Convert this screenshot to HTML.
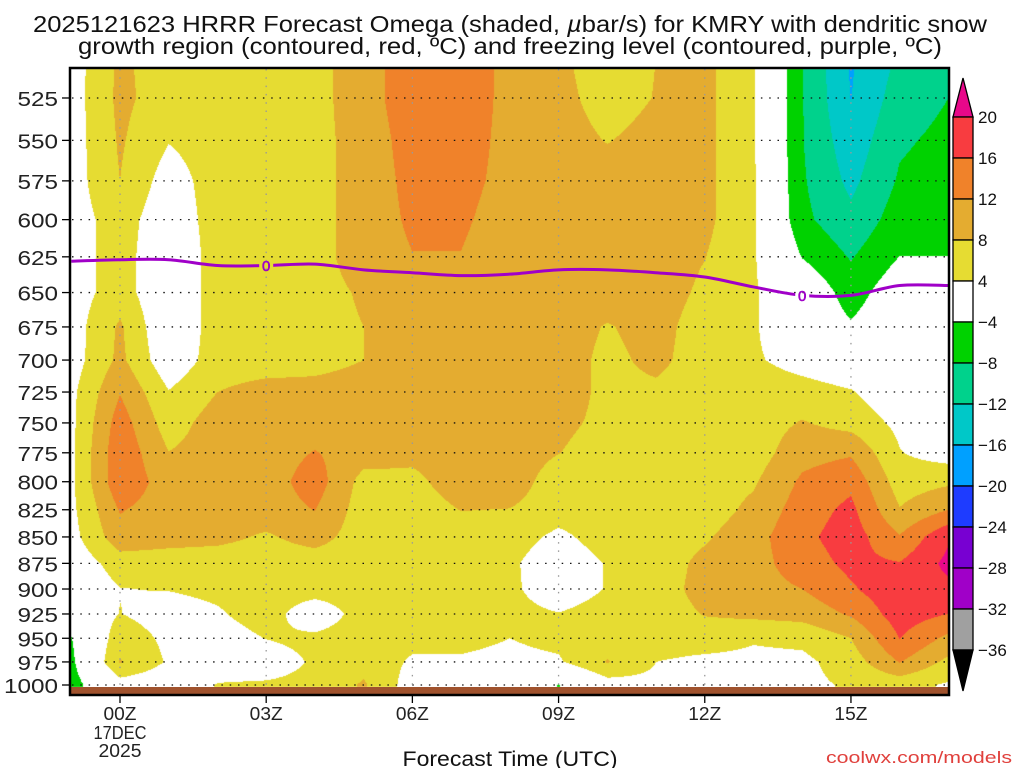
<!DOCTYPE html>
<html><head><meta charset="utf-8">
<style>
html,body{margin:0;padding:0;background:#fff;}
#wrap{position:relative;width:1024px;height:768px;overflow:hidden;}
#fill{position:absolute;left:0;top:0;}
#ov{position:absolute;left:0;top:0;}
text{font-family:"Liberation Sans",Arial,sans-serif;}
</style></head>
<body>
<div id="wrap">
<canvas id="fill" width="1024" height="768"></canvas>
<svg id="ov" width="1024" height="768" xmlns="http://www.w3.org/2000/svg">
  <text x="33" y="32" font-size="23" textLength="954" lengthAdjust="spacingAndGlyphs" fill="#111">2025121623 HRRR Forecast Omega (shaded, <tspan font-style="italic">µ</tspan>bar/s) for KMRY with dendritic snow</text>
  <text x="78" y="54" font-size="23" textLength="864" lengthAdjust="spacingAndGlyphs" fill="#111">growth region (contoured, red, ºC) and freezing level (contoured, purple, ºC)</text>
  <g id="grid"></g>
  <g id="frz"></g>
  <rect x="70" y="687" width="879" height="8" fill="#a0522d"/>
  <rect x="70" y="68" width="879" height="627" fill="none" stroke="#000" stroke-width="2.5"/>
  <g id="yax"></g>
  <g id="xax"></g>
  <text x="510" y="766" font-size="21" text-anchor="middle" textLength="215" lengthAdjust="spacingAndGlyphs" fill="#111">Forecast Time (UTC)</text>
  <text x="826" y="763" font-size="17" textLength="186" lengthAdjust="spacingAndGlyphs" fill="#e0403c">coolwx.com/models</text>
  <g id="cbar"></g>
</svg>
</div>
<script>
// ---- data ----
const hours = [-1,0,1,2,3,4,5,6,7,8,9,10,11,12,13,14,15,16,17];
const levels = [500,525,550,575,600,625,650,675,700,725,750,775,800,825,850,875,900,925,950,975,1000];
const yTickLevels = [525,550,575,600,625,650,675,700,725,750,775,800,825,850,875,900,925,950,975,1000];
const xTickHours = [0,3,6,9,12,15];
const xTickLabels = ["00Z","03Z","06Z","09Z","12Z","15Z"];
const cbarLevels = [20,16,12,8,4,-4,-8,-12,-16,-20,-24,-28,-32,-36];
const omegaHm1 = [2,2,2,2,2,2,2,2,2,3,3,3.2,3.2,3,2.5,1,0,0,-4.2,-5,-6];
const omegaH00 = [8.7,9,8.5,8,6,6,6,8.6,9,11.8,14,15,15,12.3,10.5,6,3.9,4.1,6.5,8.3,2];
const omegaH01 = [6,6,4.2,2,1,0,0,0,1,4.2,6,8.1,10,10,9.5,6,4.2,2,3,3.5,1];
const omegaH02 = [6,6,6,6,6,6,6,6,6,8,10,10,10,10,9,6,5,3.5,2,2,4.2];
const omegaH03 = [6,6,6,6,6,6,6,6,6,9.5,10,10,10,10,7.5,6,6,6,4.1,2,4.5];
const omegaH04 = [6.5,6.5,6.5,6.5,6.5,6.5,6.5,6.5,6.5,9.5,10,12.2,14,12.1,9.5,6,6,1,5,4.5,5];
const omegaH05 = [10.5,10.5,10,10,10,10,8.5,8,8,10,10,10,6.5,6,6,6,6,6,6,6.5,8.5];
const omegaH06 = [14,14,13.5,13,12.6,11.9,10,10,10,10,10,9,7,6,6,6,6,6,5,3.5,2];
const omegaH07 = [14,14,13.5,13,12.5,11.9,10,10,10,10,10,10,10,8.1,6,6,6,6,5,3.5,2];
const omegaH08 = [11,11,11,11,10.5,10,10,10,10,10,10,10,10,7.9,6,4.8,5,5.5,4,3,3];
const omegaH09 = [9,9.5,10,10,10,10,10,10,10,10,9,8.1,6,6,3,1,1,4.2,5,3.5,-4.2];
const omegaH10 = [5,6,7.8,10,10,10,10,7.7,7,7,7,6,6,6,6,4.3,4.3,6,6,8.3,2];
const omegaH11 = [8,8.2,9.5,10,10,10,10,9.5,9,7.2,6,6,6,6,6,6,6,6,6,4,3];
const omegaH12 = [9,9,9,9,9,8.1,7.2,6,6,6,6,6,6,6,7.5,9,9.5,8.2,6,3,3];
const omegaH13 = [4.5,4.5,4.5,4.5,4.5,4.5,4.5,4.5,4.5,6,6,6,7.5,9,10.5,10.5,10.5,9,4.4,3,3];
const omegaH14 = [-7.8,-7.8,-7.8,-7.5,-7,-4.2,0,0,2.5,5.5,8.3,10.5,12.7,14,15,14,12,9.5,5,3,3];
const omegaH15 = [-16.5,-16.1,-14.5,-13,-11,-8.3,-6,-3.5,1,4.3,6.5,11.5,15,17,18,17,15.5,12.5,8,6,4.5];
const omegaH16 = [-11.5,-10,-8.6,-7.5,-6,-3.94,-1,0,0,1,3,4.2,6,8.2,12.3,16.2,19,18,16.1,12.2,5.5];
const omegaH17 = [-10,-8,-7,-6,-6,-3.94,0,0,0,0,0,2,7.3,12,19.5,21,19,16,11,7,3.5];
const freezingLevel = [628,627,627,631,631,630,634,636,638,637,634,634,636,639,646,652,652,645,645];
const freezingLabelHours = [3,14];

const omega = [omegaHm1,omegaH00,omegaH01,omegaH02,omegaH03,omegaH04,omegaH05,omegaH06,omegaH07,omegaH08,omegaH09,omegaH10,omegaH11,omegaH12,omegaH13,omegaH14,omegaH15,omegaH16,omegaH17];

// ---- scales ----
const PL=70, PR=949, PT=69, PB=687;
function X(h){return 120 + 48.73*h;}
function Y(p){return 685 - (Math.log(1000)-Math.log(p))*911;}
function colorFor(v){
  if(v>=20) return [232,8,138];
  if(v>=16) return [248,60,64];
  if(v>=12) return [240,130,42];
  if(v>=8) return [228,172,48];
  if(v>=4) return [230,220,50];
  if(v>-4) return [255,255,255];
  if(v>-8) return [0,210,0];
  if(v>-12) return [0,210,140];
  if(v>-16) return [0,200,200];
  if(v>-20) return [0,160,255];
  if(v>-24) return [30,60,255];
  if(v>-28) return [120,0,210];
  if(v>-32) return [160,0,200];
  if(v>-36) return [160,160,160];
  return [0,0,0];
}
const cbarColors = ["#f83c40","#f0822a","#e4ac30","#e6dc32","#ffffff","#00d200","#00d28c","#00c8c8","#00a0ff","#1e3cff","#7800d2","#a000c8","#a0a0a0"];

// ---- shading ----
(function(){
  const cv=document.getElementById('fill'); const ctx=cv.getContext('2d');
  const img=ctx.createImageData(PR-PL, PB-PT);
  const lnL=levels.map(p=>Math.log(p));
  const h0=hours[0], hN=hours[hours.length-1];
  for(let py=PT; py<PB; py++){
    let p=1000*Math.exp(-(685-(py+0.5))/911);
    let lp=Math.log(Math.min(Math.max(p,levels[0]),levels[levels.length-1]));
    let i=0; while(i<levels.length-2 && lp>lnL[i+1]) i++;
    const t=(lp-lnL[i])/(lnL[i+1]-lnL[i]);
    for(let px=PL; px<PR; px++){
      let h=(px+0.5-120)/48.73; h=Math.min(Math.max(h,h0),hN);
      let j=Math.min(Math.floor(h-h0), hours.length-2);
      const s=h-hours[j];
      const a=omega[j][i], b=omega[j+1][i], c=omega[j][i+1], d=omega[j+1][i+1];
      const v=(a*(1-s)+b*s)*(1-t)+(c*(1-s)+d*s)*t;
      const col=colorFor(v);
      const k=((py-PT)*(PR-PL)+(px-PL))*4;
      img.data[k]=col[0]; img.data[k+1]=col[1]; img.data[k+2]=col[2]; img.data[k+3]=255;
    }
  }
  ctx.putImageData(img, PL, PT);
})();

const NS="http://www.w3.org/2000/svg";
function mk(tag, attrs, parent){const e=document.createElementNS(NS,tag); for(const k in attrs) e.setAttribute(k,attrs[k]); parent.appendChild(e); return e;}

// ---- grid ----
const grid=document.getElementById('grid');
yTickLevels.forEach(p=>{
  const l=mk('line',{x1:PL+2,x2:PR,y1:Y(p),y2:Y(p),stroke:'#111','stroke-width':1.3,'stroke-dasharray':'1.5 6.8'},grid);
  
  
});
xTickHours.forEach(h=>{
  const l=mk('line',{x1:X(h),x2:X(h),y1:PT,y2:PB,stroke:'#999','stroke-width':1.3,'stroke-dasharray':'1.5 6.8'},grid);
  
  
});

// ---- y axis ----
const yax=document.getElementById('yax');
yTickLevels.forEach(p=>{
  const tk=mk('line',{x1:62,x2:69,y1:Y(p),y2:Y(p),stroke:'#000','stroke-width':1.3},yax);
  
  
  const s=String(p);
  const t=mk('text',{x:58,y:Y(p)+8,'font-size':20,'text-anchor':'end',fill:'#222',textLength:s.length*13.5,lengthAdjust:'spacingAndGlyphs'},yax);
  t.textContent=s;
  
  
});

// ---- x axis ----
const xax=document.getElementById('xax');
xTickHours.forEach((h,i)=>{
  const tk=mk('line',{x1:X(h),x2:X(h),y1:696,y2:703,stroke:'#000','stroke-width':1.3},xax);
  
  
  const t=mk('text',{x:X(h),y:720,'font-size':18,'text-anchor':'middle',fill:'#222',textLength:33,lengthAdjust:'spacingAndGlyphs'},xax);
  t.textContent=xTickLabels[i];
  
  
});
const d1=mk('text',{x:X(0),y:739,'font-size':18,'text-anchor':'middle',fill:'#222',textLength:53,lengthAdjust:'spacingAndGlyphs'},xax);
d1.textContent='17DEC';


const d2=mk('text',{x:X(0),y:757,'font-size':18,'text-anchor':'middle',fill:'#222',textLength:43,lengthAdjust:'spacingAndGlyphs'},xax);
d2.textContent='2025';



// ---- freezing level ----
(function(){
  const g=document.getElementById('frz');
  const pts=hours.map((h,i)=>[X(h),Y(freezingLevel[i])]);
  let d='M'+pts[0][0]+','+pts[0][1];
  for(let i=0;i<pts.length-1;i++){
    const p0=pts[Math.max(i-1,0)], p1=pts[i], p2=pts[i+1], p3=pts[Math.min(i+2,pts.length-1)];
    const c1x=p1[0]+(p2[0]-p0[0])/6, c1y=p1[1]+(p2[1]-p0[1])/6;
    const c2x=p2[0]-(p3[0]-p1[0])/6, c2y=p2[1]-(p3[1]-p1[1])/6;
    d+=' C'+c1x+','+c1y+' '+c2x+','+c2y+' '+p2[0]+','+p2[1];
  }
  const defs=mk('defs',{},g);
  const m=mk('mask',{id:'frzmask'},defs);
  mk('rect',{x:0,y:0,width:1024,height:768,fill:'#fff'},m);
  freezingLabelHours.forEach(h=>{
    const i=hours.indexOf(h);
    mk('rect',{x:X(h)-7,y:Y(freezingLevel[i])-10,width:14,height:20,fill:'#000'},m);
  });
  const path=mk('path',{d:d,fill:'none',stroke:'#a000c8','stroke-width':3,mask:'url(#frzmask)'},g);
  
  
  freezingLabelHours.forEach(h=>{
    const i=hours.indexOf(h);
    const t=mk('text',{x:X(h),y:Y(freezingLevel[i])+5.5,'font-size':15,'text-anchor':'middle',fill:'#a000c8',stroke:'#a000c8','stroke-width':0.6},g);
    t.textContent='0';
    
    
  });
})();

// ---- colorbar ----
(function(){
  const g=document.getElementById('cbar');
  const cx0=953, cw=20, step=41, top=117;
  const tri=mk('polygon',{points:(cx0)+','+top+' '+(cx0+cw)+','+top+' '+(cx0+cw/2)+',78',fill:'#e8088a',stroke:'#000','stroke-width':1.3},g);
  
  
  cbarColors.forEach((c,i)=>{
    const r=mk('rect',{x:cx0,y:top+i*step,width:cw,height:step,fill:c,stroke:'#000','stroke-width':1.3},g);
    
    
  });
  const bot=top+cbarColors.length*step;
  const tri2=mk('polygon',{points:cx0+','+bot+' '+(cx0+cw)+','+bot+' '+(cx0+cw/2)+',691',fill:'#000',stroke:'#000','stroke-width':1.3},g);
  
  
  cbarLevels.forEach((v,i)=>{
    const s=v<0?'\u2212'+Math.abs(v):String(v);
    const t=mk('text',{x:978,y:top+i*step+6,'font-size':17,fill:'#111'},g);
    t.textContent=s;
    
    
  });
})();
</script>
</body></html>
